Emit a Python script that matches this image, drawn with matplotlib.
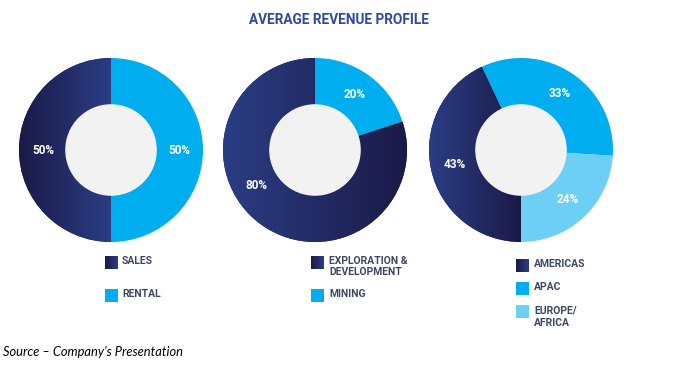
import numpy as np
import matplotlib
matplotlib.use("Agg")
import matplotlib.pyplot as plt
from matplotlib.colors import LinearSegmentedColormap
from matplotlib.patches import Circle, Rectangle

# data
chart1_labels = ["SALES", "RENTAL"]
chart1_values = [50, 50]
chart2_labels = ["EXPLORATION &\nDEVELOPMENT", "MINING"]
chart2_values = [80, 20]
chart3_labels = ["AMERICAS", "APAC", "EUROPE/\nAFRICA"]
chart3_values = [43, 33, 24]

DARK = "#1b1a47"
MID = "#2b3d85"
CYAN = "#00aeef"
LIGHT = "#6dcff6"
HOLE = "#f2f2f2"
TEXT = "#3d4761"
COND = ["Liberation Sans Narrow", "Roboto", "DejaVu Sans"]

W, H = 694, 367
fig = plt.figure(figsize=(W / 100, H / 100), dpi=100)

# full-figure overlay in pixel coords for title, legend and source
bg = fig.add_axes([0, 0, 1, 1])
bg.set_xlim(0, W)
bg.set_ylim(H, 0)
bg.axis("off")

R_PX = 92
CY = 150


def donut(cx, values, colors, start, grad, label_angles=None):
    ax = fig.add_axes([(cx - R_PX) / W, (H - CY - R_PX) / H, 2 * R_PX / W, 2 * R_PX / H])
    wedges, _ = ax.pie(values, colors=colors, startangle=start, counterclock=False,
                       radius=1, wedgeprops=dict(width=0.51, linewidth=0))
    # gradient on the dark wedge
    w = wedges[0]
    x0, x1 = (-1, 0) if grad[2] == "half" else (-1, 1)
    cmap = LinearSegmentedColormap.from_list("g", [grad[0], grad[1]])
    im = ax.imshow(np.linspace(0, 1, 256)[None, :], extent=(x0, x1, -1, 1),
                   cmap=cmap, aspect="auto", zorder=w.get_zorder() + 0.1)
    im.set_clip_path(w)
    ax.add_patch(Circle((0, 0), 0.49, color=HOLE, zorder=5))
    total = sum(values)
    for i, (wd, v) in enumerate(zip(wedges, values)):
        mid = np.deg2rad((wd.theta1 + wd.theta2) / 2)
        if label_angles and i in label_angles:
            mid = np.deg2rad(label_angles[i])
        ax.text(0.74 * np.cos(mid), 0.74 * np.sin(mid), f"{round(100 * v / total)}%",
                ha="center", va="center", color="white", fontsize=8.5,
                fontweight="bold", family=COND, zorder=6)
    ax.set_xlim(-1, 1)
    ax.set_ylim(-1, 1)
    ax.axis("off")


donut(111, chart1_values, [DARK, CYAN], 270, (DARK, MID, "half"))
donut(315, chart2_values, [DARK, CYAN], 18, (MID, DARK, "full"), {0: 90 - 238.7})
donut(521, chart3_values, [DARK, CYAN, LIGHT], 270, (MID, DARK, "half"))

bg.text(339, 19.5, "AVERAGE REVENUE PROFILE", ha="center", va="center",
        fontsize=9.8, fontweight="bold", color="#2e4b9b", family=COND)

legend_cmap = LinearSegmentedColormap.from_list("lg", [DARK, MID])


def legend(x, tx, ys, labels, colors, gap):
    for y, lab, col in zip(ys, labels, colors):
        if col == "grad":
            bg.imshow(np.linspace(0, 1, 32)[None, :], extent=(x, x + 13, y + 13, y),
                      cmap=legend_cmap, aspect="auto")
        else:
            bg.add_patch(Rectangle((x, y), 13, 13, color=col, linewidth=0))
        n = lab.count("\n")
        bg.text(tx, y + 5 + n * gap / 2, lab, ha="left", va="center", fontsize=7.5,
                fontweight="bold", color=TEXT, family=COND, linespacing=gap / 9.6)


legend(105, 122, [256, 289], chart1_labels, ["grad", CYAN], 11)
legend(311, 329, [256, 289], chart2_labels, ["grad", CYAN], 11)
legend(516, 534, [259, 282, 305], chart3_labels, ["grad", CYAN, LIGHT], 13)

bg.set_xlim(0, W)
bg.set_ylim(H, 0)

bg.text(3, 352, "Source \u2013 Company\u2019s Presentation", ha="left", va="center",
        fontsize=9.3, style="italic", color="black", family=["Lato", "DejaVu Sans"])

fig.savefig("out.png", dpi=100)
